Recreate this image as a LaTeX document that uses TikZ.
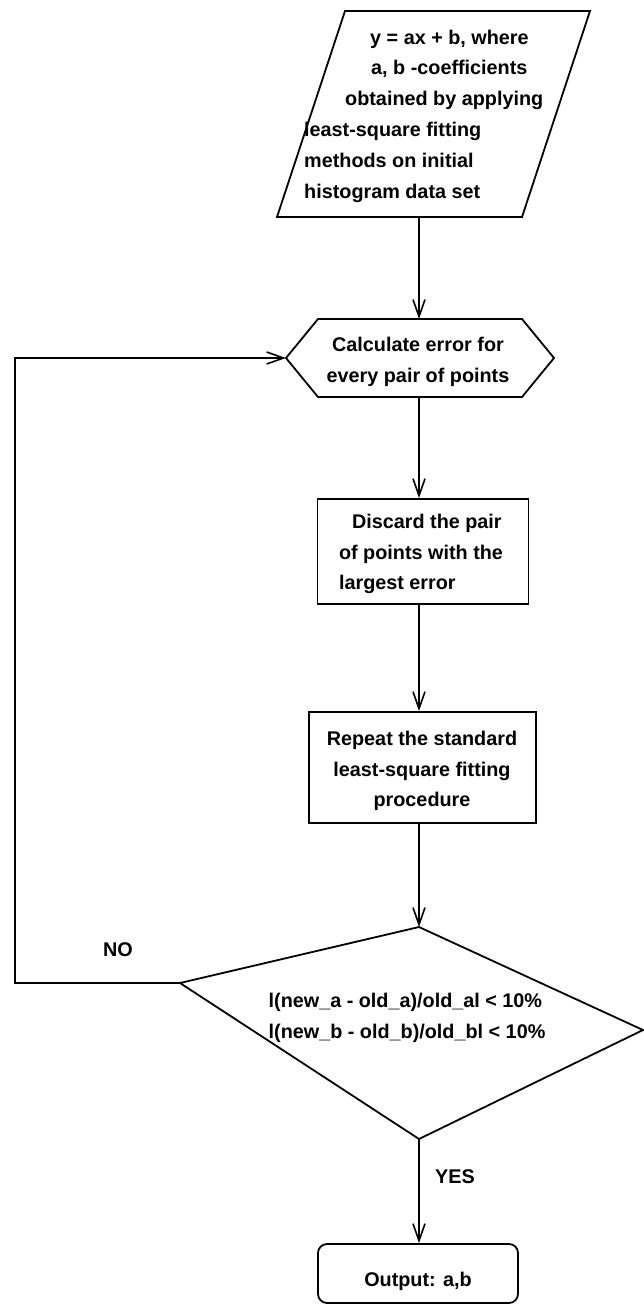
\documentclass[tikz,border=0pt]{standalone}
\usepackage{fontspec}
\setmainfont{Liberation Sans}
\usetikzlibrary{arrows.meta}
\begin{document}
\begin{tikzpicture}[x=1pt,y=-1pt,
  txt/.style={font=\bfseries\fontsize{19.8}{30.8}\selectfont, inner sep=0pt},
  box/.style={draw, line width=1.8pt},
  flow/.style={-{Straight Barb[length=17pt,width=12pt,line width=1.6pt]}, line width=1.5pt}]
\useasboundingbox[fill=white] (0,0) rectangle (644,1307);

% input parallelogram
\draw[box] (345,11) -- (590,11) -- (522,217) -- (277,217) -- cycle;
\coordinate (inS) at (419,217);
\node[txt, align=left, anchor=west] (intxt) at (304,116)
  {\hspace{66pt}y = ax + b, where\\
   \hspace{67pt}a, b -coefficients\\
   \hspace{41pt}obtained by applying\\
   least-square fitting\\
   methods on initial\\
   histogram data set};

% hexagon
\draw[box] (286,358) -- (318,319) -- (522,319) -- (554,358) -- (522,397) -- (318,397) -- cycle;
\coordinate (hexN) at (419,319);
\coordinate (hexS) at (419,397);
\coordinate (hexW) at (286,358);
\node[txt, align=center] (hextxt) at (418,362) {Calculate error for\\every pair of points};

% rectangle 1
\node[box, minimum width=211pt, minimum height=105pt, inner sep=0pt] (r1) at (423,551.5) {};
\node[txt, align=left] (r1txt) at (421,554)
  {\hspace{13pt}Discard the pair\\of points with the\\largest error};

% rectangle 2
\node[box, minimum width=227pt, minimum height=111pt, inner sep=0pt] (r2) at (422.5,767.5) {};
\node[txt, align=center] (r2txt) at (422,771)
  {Repeat the standard\\least-square fitting\\procedure};

% decision
\draw[box] (419,927) -- (643,1030) -- (419,1139) -- (180,983) -- cycle;
\coordinate (dN) at (419,927);
\coordinate (dS) at (419,1139);
\coordinate (dW) at (180,983);
\node[txt, align=left] (dtxt) at (407,1018)
  {l(new\_a - old\_a)/old\_al < 10\%\\l(new\_b - old\_b)/old\_bl < 10\%};

% output
\node[box, rounded corners=9pt, minimum width=200pt, minimum height=59pt, inner sep=0pt] (out) at (418,1273.5) {};
\node[txt] (outtxt) at (418,1281) {Output: a,b};

% loop coordinates
\coordinate (lb) at (15,983);
\coordinate (lt) at (15,358);

% connectors
\draw[flow] (inS) -- (hexN);
\draw[flow] (hexS) -- (hexS |- r1.north);
\draw[flow] (hexS |- r1.south) -- (hexS |- r2.north);
\draw[flow] (hexS |- r2.south) -- (dN);
\draw[flow] (dS) -- (dS |- out.north);
\draw[flow] (dW) -- (lb) -- (lt) -- (hexW);

% labels
\node[txt] (no) at (118,950) {NO};
\node[txt] (yes) at (455,1177) {YES};
\end{tikzpicture}
\end{document}
